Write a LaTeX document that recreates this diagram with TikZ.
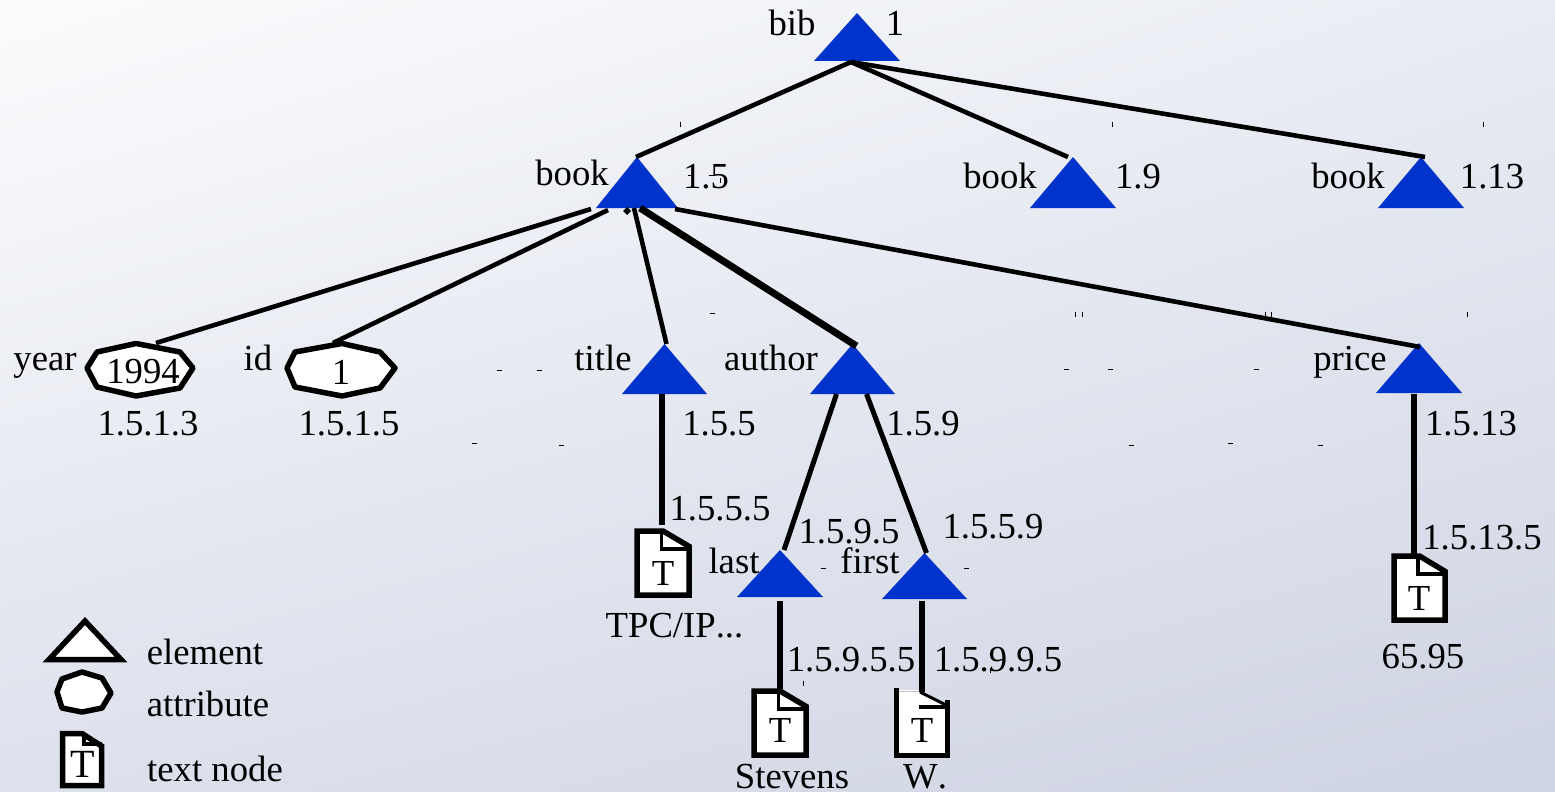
\documentclass[tikz,border=0pt]{standalone}
\usepackage{fontspec}
\setmainfont[Kerning=Off]{Liberation Serif}
\usetikzlibrary{shapes.geometric,calc,shadings}
\definecolor{elblue}{HTML}{0033CC}
\definecolor{bgtl}{HTML}{FBFCFD}
\definecolor{bgtr}{HTML}{E9ECF3}
\definecolor{bgbl}{HTML}{DDE1EC}
\definecolor{bgbr}{HTML}{CFD4E3}
\tikzset{
  lab/.style={anchor=base,inner sep=0pt,outer sep=0pt,font=\fontsize{36.7}{40}\selectfont},
  elem/.style={isosceles triangle,isosceles triangle stretches,shape border rotate=90,
    fill=elblue,draw=none,inner sep=0pt,outer sep=0pt,minimum width=86pt,minimum height=48pt,anchor=lower side},
  attrbox/.style={inner sep=0pt,outer sep=0pt,font=\fontsize{36.7}{40}\selectfont},
  attrshape/.style={draw=black,fill=white,line width=5.5pt,line join=round},
  docshape/.style={draw=black,fill=white,line width=5.5pt,line join=miter},
  thinlink/.style={draw=black,line width=4.6pt},
  midlink/.style={draw=black,line width=5pt},
  heavylink/.style={draw=black,line width=7pt},
  speck/.style={draw=black,line width=0.9pt},
}
% name, left, top, width, height (centre line of the outline), fold x and y fractions
\newcommand{\docicon}[7]{%
  \draw[docshape] (#2,#3) -- ({#2+0.5*#4},#3) -- ({#2+#4},{#3+0.24*#5}) -- ({#2+#4},{#3+#5}) -- (#2,{#3+#5}) -- cycle;
  \draw[docshape,fill=none,line width=3.5pt] ({#2+#6*#4},#3) -- ({#2+#6*#4},{#3+#7*#5}) -- ({#2+#4},{#3+#7*#5});
  \coordinate (#1) at ({#2+0.5*#4},{#3-2});
}
% name, x, y of the lower side, width, height
\newcommand{\elemnode}[5]{\node[elem,minimum width=#4pt,minimum height=#5pt] (#1) at (#2,#3) {};}
\begin{document}
\begin{tikzpicture}[x=1pt,y=-1pt]
\useasboundingbox (0,0) rectangle (1555,792);
\shade[upper left=bgtl,upper right=bgtr,lower left=bgbl,lower right=bgbr] (0,0) rectangle (1555,792);

% elements
\elemnode{bib}{857}{61}{86}{48}
\elemnode{bookA}{637}{208}{82}{51}
\elemnode{bookB}{1073}{208}{86}{51}
\elemnode{bookC}{1421}{208}{86}{51}
\elemnode{title}{664.5}{394}{85}{50}
\elemnode{author}{852.5}{394}{85}{50}
\elemnode{price}{1419}{393}{86}{50}
\elemnode{last}{780}{597}{86}{47}
\elemnode{first}{924.5}{599}{85}{46}

% attributes
\draw[attrshape] (136,343.5) -- (97,352) -- (87,368) -- (97,387) -- (136,396) -- (180,388) -- (193,368) -- (180,352) -- cycle;
\node[attrbox] (yearval) at (143,372) {1994};
\draw[attrshape] (342,343.5) -- (295,352) -- (287,368) -- (295,387) -- (342,396) -- (380,388) -- (395,368) -- (380,352) -- cycle;
\node[attrbox] (idval) at (341,372) {1};

% text nodes
\docicon{docTitle}{637}{531}{52}{64}{0.47}{0.28}
\node[lab] (tTitle) at (663,585) {T};
\docicon{docLast}{754}{691}{52}{64}{0.47}{0.28}
\node[lab] (tLast) at (780,742) {T};
\docicon{docPrice}{1394}{556}{51}{64}{0.47}{0.28}
\node[lab] (tPrice) at (1419,610) {T};
% the W. text node has no top edge
\path[fill=white] (896,690) -- (920,690) -- (948,706) -- (948,755) -- (896,755) -- cycle;
\draw[black,line width=5pt,line join=miter] (896.5,688) -- (896.5,755) -- (947.5,755) -- (947.5,700);
\draw[black,line width=3pt] (920,692) -- (948,706);
\draw[black,line width=3.5pt] (919,707) -- (948,707);
\draw[black!25,line width=1pt] (899,691) -- (920,691);
\coordinate (docFirst) at (922,692);
\node[lab] (tFirst) at (922,742) {T};

% connectors
\draw[thinlink] ($(bib.lower side)+(-6,1)$) -- ($(bookA.apex)+(-1,0)$);
\draw[thinlink] ($(bib.lower side)+(-6,1)$) -- ($(bookB.apex)+(-5,0)$);
\draw[thinlink] ($(bib.lower side)+(-6,1)$) -- ($(bookC.apex)+(4,0)$);
\draw[thinlink] ($(bookA.lower side)+(-46,1)$) -- ($(yearval)+(13,-29)$);
\draw[thinlink] ($(bookA.lower side)+(-29,2)$) -- ($(idval)+(-8,-29)$);
\draw[thinlink] ($(bookA.lower side)+(-3,0)$) -- ($(title.apex)+(2,0)$);
\draw[heavylink] ($(bookA.lower side)+(3,0)$) -- ($(author.apex)+(4,2)$);
\draw[thinlink] ($(bookA.lower side)+(38,1)$) -- ($(price.apex)+(1,4)$);
\draw[heavylink,line width=6pt] ($(title.lower side)+(-2.5,0)$) -- ($(docTitle)+(-1,-4)$);
\draw[midlink] ($(author.lower side)+(-16,0)$) -- ($(last.apex)+(4,0)$);
\draw[midlink] ($(author.lower side)+(14,0)$) -- ($(first.apex)+(2,0)$);
\draw[heavylink,line width=5.5pt] ($(price.lower side)+(-5,1)$) -- ($(docPrice)+(-5.5,0)$);
\draw[heavylink,line width=5.5pt] ($(last.lower side)+(0,4)$) -- (docLast);
\draw[heavylink,line width=6pt] ($(first.lower side)+(-2.5,2)$) -- (docFirst);

% small specks
\fill[black] (627,207) -- (631,211) -- (627,215) -- (623,211) -- cycle;
\foreach \px/\py in {499/370,539/370,1066/369,1110/369,1256/369,1320/445,474/443,561/445,1131/445,1230/443,823/568,966/568,712/313,690/175,711/175}
  \draw[speck] ({\px-2.5},\py) -- ({\px+2.5},\py);
\foreach \px/\py in {680/124,1112/124,1483/124,1075/314,1082/314,1265/314,1271/314,1467/314,803/683,990/670,720/180}
  \draw[speck] (\px,{\py-2.5}) -- (\px,{\py+2.5});

% labels
\node[lab] (lBib) at (792,36) {bib};
\node[lab] (nBib) at (895,36) {1};
\node[lab] (lBookA) at (572,185) {book};
\node[lab] (nBookA) at (706,188) {1.5};
\node[lab] (lBookB) at (1000,188) {book};
\node[lab] (nBookB) at (1138,188) {1.9};
\node[lab] (lBookC) at (1348,188) {book};
\node[lab] (nBookC) at (1492,188) {1.13};
\node[lab] (lYear) at (45,370) {year};
\node[lab] (nYear) at (148,435) {1.5.1.3};
\node[lab] (lId) at (258,370) {id};
\node[lab] (nId) at (349,435) {1.5.1.5};
\node[lab] (lTitle) at (603,370) {title};
\node[lab] (nTitle) at (719,435) {1.5.5};
\node[lab] (lAuthor) at (771,370) {author};
\node[lab] (nAuthor) at (923,435) {1.5.9};
\node[lab] (lPrice) at (1350,370) {price};
\node[lab] (nPrice) at (1471,435) {1.5.13};
\node[lab] (nDocTitle) at (720,520) {1.5.5.5};
\node[lab] (nLast) at (849,543) {1.5.9.5};
\node[lab] (nFirst) at (993,538) {1.5.5.9};
\node[lab] (lLast) at (734,573) {last};
\node[lab] (lFirst) at (870,573) {first};
\node[lab] (nDocPrice) at (1482,549) {1.5.13.5};
\node[lab] (vTitle) at (674.5,637) {TPC/IP...};
\node[lab] (vPrice) at (1423,668) {65.95};
\node[lab] (nDocLast) at (851,671) {1.5.9.5.5};
\node[lab] (nDocFirst) at (998,671) {1.5.9.9.5};
\node[lab] (vLast) at (792,788) {Stevens};
\node[lab] (vFirst) at (925,788) {W.};

% legend
\draw[docshape,line width=5.5pt] (85,621) -- (121,659.5) -- (49,659.5) -- cycle;
\draw[attrshape] (82,672) -- (62,679) -- (57,692) -- (62,708) -- (82,712) -- (102,708) -- (111,693) -- (102,678) -- cycle;
\docicon{docLegend}{62.5}{733.5}{39}{52}{0.55}{0.2}
\node[lab,font=\fontsize{40}{44}\selectfont] (tLegend) at (83,777) {T};
\node[lab] (legElem) at (205,664) {element};
\node[lab] (legAttr) at (208,716) {attribute};
\node[lab] (legText) at (215,781) {text node};
\end{tikzpicture}
\end{document}
